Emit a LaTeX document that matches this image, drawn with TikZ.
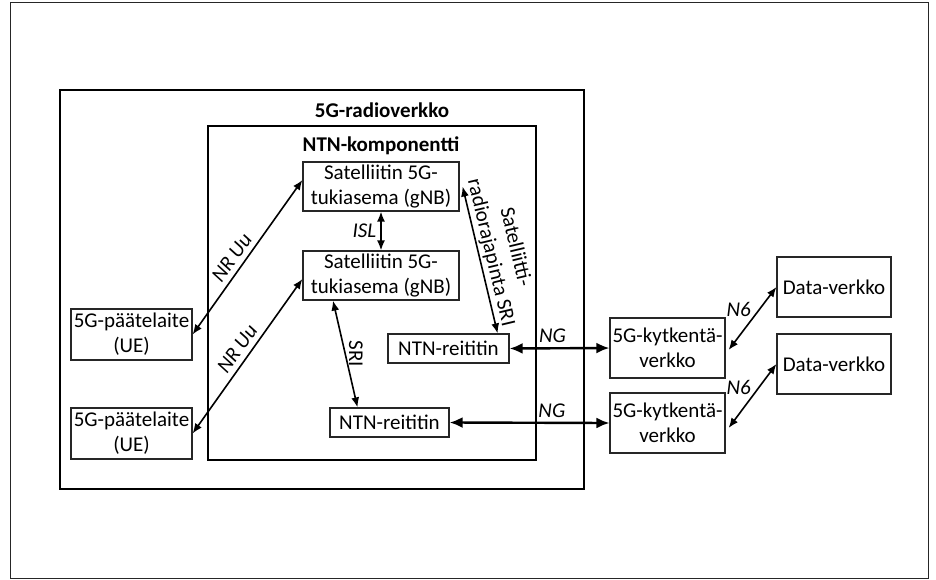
\documentclass[tikz,border=0pt]{standalone}
\usepackage{fontspec}
\setmainfont{Carlito}
\usetikzlibrary{arrows.meta}
\begin{document}
\begin{tikzpicture}[x=1pt,y=-1pt,
  font=\fontsize{21}{25}\selectfont,
  box/.style={draw=black!85, line width=1.2pt, rectangle, inner sep=0pt, align=center},
  bigbox/.style={draw, line width=2.2pt, rectangle, inner sep=0pt},
  conn/.style={{Latex[length=10pt,width=8pt]}-{Latex[length=10pt,width=8pt]}, line width=1.6pt},
  ngconn/.style={{Latex[length=13pt,width=11pt]}-{Latex[length=13pt,width=11pt]}, line width=2.4pt},
  lab/.style={font=\fontsize{21}{25}\selectfont\itshape, inner sep=2pt},
  title/.style={font=\fontsize{21}{25}\selectfont\bfseries}]
\useasboundingbox (0,0) rectangle (936,580);
% frames
\node[draw=black!85, line width=1pt, rectangle, inner sep=0pt, minimum width=918pt, minimum height=575pt] (frame) at (469,290.5) {};
\node[bigbox, minimum width=524pt, minimum height=399pt] (radio) at (322,289.5) {};
\node[bigbox, minimum width=328pt, minimum height=334pt] (ntn) at (372,293) {};
\node[title] (t1) at (382,110) {5G-radioverkko};
\node[title] (t2) at (381,146) {NTN-komponentti};
% boxes
\node[box, minimum width=156pt, minimum height=49pt] (gnb1) at (381,186.5) {Satelliitin 5G-\\tukiasema (gNB)};
\node[box, minimum width=156pt, minimum height=49pt] (gnb2) at (381,275.5) {Satelliitin 5G-\\tukiasema (gNB)};
\node[box, minimum width=121pt, minimum height=29pt] (rt1) at (448.5,348.5) {NTN-reititin};
\node[box, minimum width=119pt, minimum height=29pt] (rt2) at (389.5,422.5) {NTN-reititin};
\node[box, minimum width=121pt, minimum height=51pt] (ue1) at (131.5,334.5) {5G-päätelaite\\(UE)};
\node[box, minimum width=121pt, minimum height=51pt] (ue2) at (131.5,433.5) {5G-päätelaite\\(UE)};
\node[box, minimum width=115pt, minimum height=60pt] (kv1) at (667.5,348) {5G-kytkentä-\\verkko};
\node[box, minimum width=115pt, minimum height=60pt] (kv2) at (667.5,423) {5G-kytkentä-\\verkko};
\node[box, minimum width=114pt, minimum height=60pt] (dv1) at (834,287) {Data-verkko};
\node[box, minimum width=114pt, minimum height=60pt] (dv2) at (834,364) {Data-verkko};
% connectors
\draw[conn] (ue1.east) -- node[lab, sloped, above, inner sep=5pt, pos=0.45] {NR Uu} ([yshift=6.5pt]gnb1.west);
\draw[conn] (ue2.east) -- node[lab, sloped, above, inner sep=5pt, pos=0.5] {NR Uu} ([yshift=-3.5pt]gnb2.west);
\draw[conn] (gnb1.south) -- node[lab, left, inner sep=4pt] {ISL} (gnb2.north);
\draw[conn] ([xshift=3pt]gnb1.east) -- node[sloped, above, align=center, inner sep=2pt, pos=0.47] {Satelliitti-\\radiorajapinta SRI} ([xshift=-12pt]rt1.north east);
\draw[conn] ([xshift=-48pt]gnb2.south) -- node[anchor=south, rotate=-90, inner sep=3pt] {SRI} ([xshift=-32pt]rt2.north);
\draw[ngconn] (rt1.east) -- node[lab, above, pos=0.43, inner sep=4pt] {NG} (kv1.west);
\draw[ngconn] (rt2.east) -- node[lab, above, pos=0.64, inner sep=4pt] {NG} (kv2.west);
\draw[conn] ([xshift=3pt,yshift=-2pt]kv1.east) -- node[lab, above left, inner sep=1pt] {N6} (dv1.west);
\draw[conn] ([xshift=3pt,yshift=-5pt]kv2.east) -- node[lab, above left, inner sep=1pt] {N6} (dv2.west);
\end{tikzpicture}
\end{document}
